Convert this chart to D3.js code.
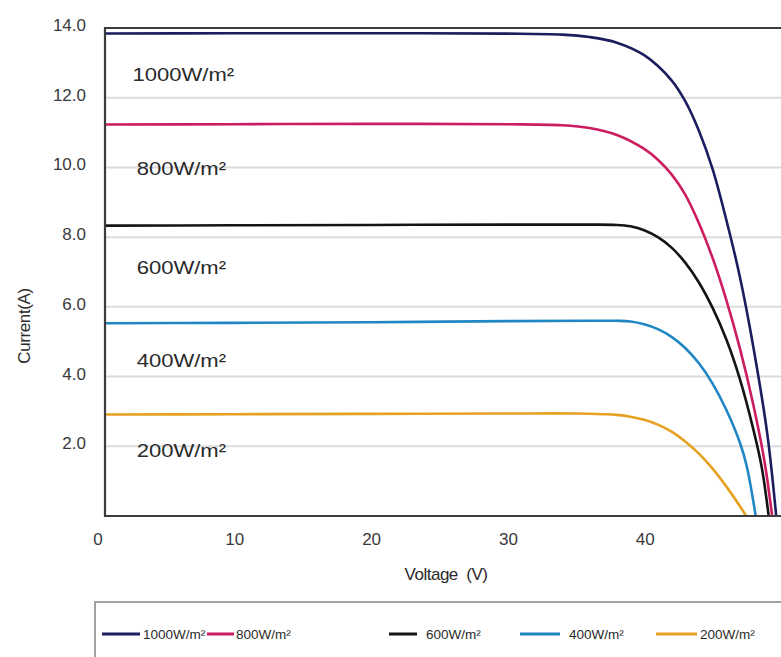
<!DOCTYPE html>
<html>
<head>
<meta charset="utf-8">
<script src="https://cdn.jsdelivr.net/npm/d3@7"></script>
<style>
  body { margin: 0; background: #fff; }
  svg { display: block; font-family: "Liberation Sans", Arial, sans-serif; }
</style>
</head>
<body>
<div id="chart"></div>
<script>
// irradiance series
const seriesNames = ["1000W/m²", "800W/m²", "600W/m²", "400W/m²", "200W/m²"];
const seriesColors = ["#1c1d5e", "#cc1d60", "#141414", "#2086c4", "#e6a120"];

// voltage (V) / current (A)
const volt1000 = [0, 10, 20, 30, 34, 36, 38, 40, 42, 43, 44, 45, 46, 47, 48, 49, 49.65];
const amp1000  = [13.84, 13.85, 13.85, 13.84, 13.81, 13.74, 13.58, 13.22, 12.5, 11.9, 11.05, 9.95, 8.5, 6.85, 4.8, 2.35, 0];

const volt800 = [0, 10, 20, 30, 34, 36, 38, 40, 41, 42, 43, 44, 45, 46, 47, 48, 48.8, 49.35];
const amp800  = [11.23, 11.24, 11.25, 11.24, 11.21, 11.13, 10.93, 10.53, 10.22, 9.8, 9.22, 8.4, 7.4, 6.2, 4.8, 3.15, 1.55, 0];

const volt600 = [0, 10, 20, 30, 36, 38, 39, 40, 41, 42, 43, 44, 45, 46, 47, 48, 48.6, 49.1];
const amp600  = [8.33, 8.34, 8.35, 8.36, 8.36, 8.35, 8.31, 8.2, 8.0, 7.7, 7.27, 6.7, 5.97, 5.07, 3.92, 2.45, 1.38, 0];

const volt400 = [0, 10, 20, 30, 36, 38, 39, 40, 41, 42, 43, 44, 45, 46, 47, 47.5, 48.15];
const amp400  = [5.53, 5.54, 5.56, 5.59, 5.6, 5.6, 5.58, 5.5, 5.36, 5.14, 4.82, 4.38, 3.8, 3.05, 2.1, 1.42, 0];

const volt200 = [0, 10, 20, 30, 35, 37, 38, 39, 40, 41, 42, 43, 44, 45, 46, 47, 47.45];
const amp200  = [2.91, 2.92, 2.93, 2.94, 2.94, 2.92, 2.9, 2.85, 2.76, 2.62, 2.42, 2.14, 1.79, 1.36, 0.85, 0.28, 0];

// in-plot labels (V, A)
const labelVolt = [2.6, 2.9, 2.9, 2.9, 2.9];
const labelAmp  = [12.68, 9.96, 7.13, 4.47, 1.89];

const xTicks = [0, 10, 20, 30, 40];
const yTicks = [2, 4, 6, 8, 10, 12, 14];

const allVolt = [volt1000, volt800, volt600, volt400, volt200];
const allAmp = [amp1000, amp800, amp600, amp400, amp200];

const width = 781, height = 657;

let x = d3.scaleLinear().domain([0, 50]).range([97, 781]);
let y = d3.scaleLinear().domain([0, 14]).range([516, 28]);

const plotLeft = x(0) + 8;
const plotRight = width + 2;

let svg = d3.select("#chart").append("svg")
  .attr("width", width)
  .attr("height", height);

// gridlines
svg.append("g")
  .selectAll("line").data(yTicks.filter(t => t < 14))
  .enter().append("line")
    .attr("x1", plotLeft)
    .attr("x2", plotRight)
    .attr("y1", d => y(d))
    .attr("y2", d => y(d))
    .attr("stroke", "#dcdcdc")
    .attr("stroke-width", 2);

svg.append("defs").append("clipPath").attr("id", "clip")
  .append("rect")
    .attr("x", plotLeft)
    .attr("y", y(14) - 2)
    .attr("width", plotRight - plotLeft)
    .attr("height", y(0) - y(14) + 2);

// curves
let line = d3.line()
  .x(d => x(d[0]))
  .y(d => y(d[1]))
  .curve(d3.curveCatmullRom.alpha(0.5));

svg.append("g").attr("clip-path", "url(#clip)")
  .selectAll("path").data(seriesNames)
  .enter().append("path")
    .attr("d", (d, i) => line(allVolt[i].map((v, j) => [v, allAmp[i][j]])))
    .attr("fill", "none")
    .attr("stroke", (d, i) => seriesColors[i])
    .attr("stroke-width", 2.6);

// frame (top, left, bottom)
svg.append("path")
  .attr("d", "M" + plotRight + "," + y(14) + "H" + plotLeft + "V" + y(0) + "H" + plotRight)
  .attr("fill", "none")
  .attr("stroke", "#3c3c3c")
  .attr("stroke-width", 2.2);

// y tick labels
svg.append("g")
  .selectAll("text").data(yTicks)
  .enter().append("text")
    .attr("x", 86)
    .attr("y", d => y(d) - 3)
    .attr("dy", "0.35em")
    .attr("text-anchor", "end")
    .attr("fill", "#3a3a3a")
    .style("font-size", "17px")
    .text(d => d.toFixed(1));

// x tick labels
svg.append("g")
  .selectAll("text").data(xTicks)
  .enter().append("text")
    .attr("x", d => x(d) + 1)
    .attr("y", 539)
    .attr("dy", "0.35em")
    .attr("text-anchor", "middle")
    .attr("fill", "#3a3a3a")
    .style("font-size", "17px")
    .text(d => d);

// axis titles
svg.append("text")
  .attr("x", 446)
  .attr("y", 574)
  .attr("dy", "0.35em")
  .attr("text-anchor", "middle")
  .attr("fill", "#2a2a2a")
  .attr("xml:space", "preserve")
  .style("font-size", "17px")
  .style("letter-spacing", "-0.5px")
  .style("white-space", "pre")
  .text("Voltage  (V)");

svg.append("text")
  .attr("transform", "translate(24,326) rotate(-90)")
  .attr("dy", "0.35em")
  .attr("text-anchor", "middle")
  .attr("fill", "#2a2a2a")
  .style("font-size", "17px")
  .style("letter-spacing", "-0.4px")
  .text("Current(A)");

// labels inside plot
svg.append("g")
  .selectAll("text").data(seriesNames)
  .enter().append("text")
    .attr("transform", (d, i) => "translate(" + x(labelVolt[i]) + "," + y(labelAmp[i]) + ") scale(1.16,1)")
    .attr("dy", "0.35em")
    .attr("fill", "#2a2a2a")
    .style("font-size", "19px")
    .text(d => d);

// legend
const legendX = [102, 207, 389, 520, 656];
const legendLen = [38, 27, 28, 40, 41];
const legendGap = [3, 2, 9, 9, 3];

svg.append("rect")
  .attr("x", 95)
  .attr("y", 602)
  .attr("width", 720)
  .attr("height", 100)
  .attr("fill", "none")
  .attr("stroke", "#8a8a8a")
  .attr("stroke-width", 1.6);

let legend = svg.append("g")
  .selectAll("g").data(seriesNames)
  .enter().append("g")
    .attr("transform", (d, i) => "translate(" + legendX[i] + ",634)");

legend.append("line")
  .attr("x1", 0)
  .attr("x2", (d, i) => legendLen[i])
  .attr("stroke", (d, i) => seriesColors[i])
  .attr("stroke-width", 3);

legend.append("text")
  .attr("x", (d, i) => legendLen[i] + legendGap[i])
  .attr("dy", "0.35em")
  .attr("fill", "#2a2a2a")
  .style("font-size", "13.5px")
  .text(d => d);
</script>
</body>
</html>
